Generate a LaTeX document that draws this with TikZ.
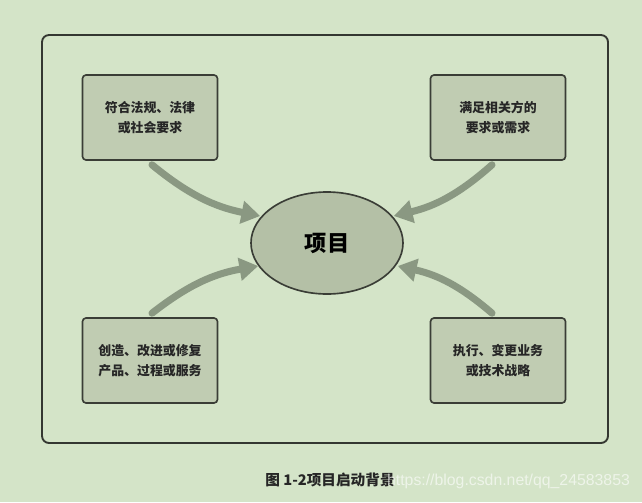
\documentclass[tikz,border=0pt]{standalone}
\usepackage{fontspec}
\setmainfont{Noto Sans CJK SC}
\newfontfamily\markfont{Liberation Sans}
\usepackage{tikz}
\usetikzlibrary{calc,arrows.meta,shapes.geometric}

\definecolor{bgcol}{HTML}{D4E4C8}
\definecolor{boxfill}{HTML}{C0CCB2}
\definecolor{boxline}{HTML}{3A3D36}
\definecolor{ellfill}{HTML}{B4C0A6}
\definecolor{arrcol}{HTML}{8A9882}

\tikzset{
  reqbox/.style={draw=boxline,fill=boxfill,line width=1.4pt,rounded corners=3pt,
    minimum width=4.05cm,minimum height=2.55cm,align=center,
    font=\fontsize{11}{17}\selectfont\bfseries,text=black!85},
  pushline/.style={arrcol,line width=6pt,
    -{Triangle[length=16pt,width=19pt]}},
}

\begin{document}
\begin{tikzpicture}[x=0.03cm,y=-0.03cm,line cap=round,line join=round]
  \useasboundingbox[fill=bgcol] (0,0) rectangle (642,502);
  \draw[line width=1.6pt,draw=boxline!90!black,rounded corners=6pt] (42,35) rectangle (608,443);
  \node[reqbox] (tl) at (150,117.5) {符合法规、法律\\或社会要求};
  \node[reqbox] (tr) at (498,117.5) {满足相关方的\\要求或需求};
  \node[reqbox] (bl) at (150,360.5) {创造、改进或修复\\产品、过程或服务};
  \node[reqbox] (br) at (498,360.5) {执行、变更业务\\或技术战略};
  \node[ellipse,draw=boxline,fill=ellfill,line width=1.4pt,
    minimum width=4.56cm,minimum height=3.06cm,
    font=\fontsize{19}{22}\selectfont\bfseries] (proj) at (327,243) {项目};
  % arrows into the project
  \draw[pushline] ($(tl.south)+(2,4)$) to[bend right=14] ($(proj.west)+(10,-27)$);
  \draw[pushline] ($(tr.south)+(-6,4)$) to[bend left=14] ($(proj.east)+(-10,-27)$);
  \draw[pushline] ($(bl.north)+(2,-4)$) to[bend left=14] ($(proj.west)+(8,23)$);
  \draw[pushline] ($(br.north)+(-6,-4)$) to[bend right=14] ($(proj.east)+(-6,23)$);
  \node[font=\fontsize{12.5}{14}\selectfont\bfseries,text=black!85] (cap) at (330,480) {图 1-2项目启动背景};
  \node[anchor=east,font=\markfont\fontsize{13.5}{16}\selectfont,text=white,opacity=0.6] (mark) at (634,481) {https://blog.csdn.net/qq\_24583853};
\end{tikzpicture}
\end{document}
